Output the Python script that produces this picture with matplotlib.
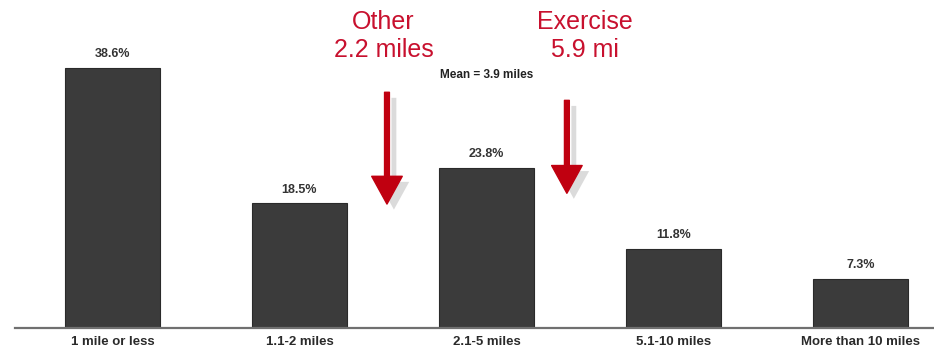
import matplotlib
matplotlib.use("Agg")
import matplotlib.pyplot as plt
import matplotlib.patheffects as pe

categories = ["1 mile or less", "1.1-2 miles", "2.1-5 miles", "5.1-10 miles", "More than 10 miles"]
shares = [38.6, 18.5, 23.8, 11.8, 7.3]
share_labels = ["38.6%", "18.5%", "23.8%", "11.8%", "7.3%"]

# red callouts: label, arrow x, arrow tail, arrow tip (data units)
callout_text = ["Other\n2.2 miles", "Exercise\n5.9 mi"]
callout_x = [1.468, 2.43]
callout_text_x = [1.45, 2.525]
arrow_tail = [35.0, 33.8]
arrow_tip = [18.4, 20.0]
mean_text = "Mean = 3.9 miles"

plt.rcParams["font.family"] = ["Liberation Sans", "DejaVu Sans"]

fig = plt.figure(figsize=(9.34, 3.55), dpi=100)
ax = fig.add_axes([15 / 934, 27 / 355, 1 - 15 / 934, 1 - 27 / 355])

x = range(len(categories))
bars = ax.bar(x, shares, width=0.508, color="#3b3b3b", edgecolor="#2a2a2a", linewidth=0.8, zorder=2)

for b, lbl in zip(bars, share_labels):
    ax.annotate(lbl, (b.get_x() + b.get_width() / 2, b.get_height()),
                xytext=(0, 5.5), textcoords="offset points", ha="center", va="bottom",
                fontsize=9, color="#333333", fontweight="bold")

ax.set_xlim(-0.521, 4.393)
ax.set_ylim(0, 48.7)
ax.set_yticks([])
ax.set_xticks(list(x))
ax.set_xticklabels(categories, fontsize=9.5, fontweight="bold", color="#2a2a2a")
ax.tick_params(axis="x", length=0, pad=6)
for s in ["top", "right", "left"]:
    ax.spines[s].set_visible(False)
ax.spines["bottom"].set_color("#707070")
ax.spines["bottom"].set_linewidth(1.6)

red = "#c8102e"
shadow = [pe.SimplePatchShadow(offset=(5, -4), shadow_rgbFace="#b0b0b0", alpha=0.45), pe.Normal()]
for tx, ax_x, t0, t1, txt in zip(callout_text_x, callout_x, arrow_tail, arrow_tip, callout_text):
    ax.annotate("", xy=(ax_x, t1), xytext=(ax_x, t0),
                arrowprops=dict(width=3.5, headwidth=22, headlength=20, color="#c00010",
                                shrink=0, path_effects=shadow), zorder=3)
    ax.text(tx, 48.7 - 1.5, txt, ha="center", va="top", fontsize=18, color=red,
            linespacing=1.2, clip_on=False)

ax.text(2.0, 37.5, mean_text, ha="center", va="center", fontsize=8.5,
        color="#222222", fontweight="bold")

fig.savefig("out.png", dpi=100)
